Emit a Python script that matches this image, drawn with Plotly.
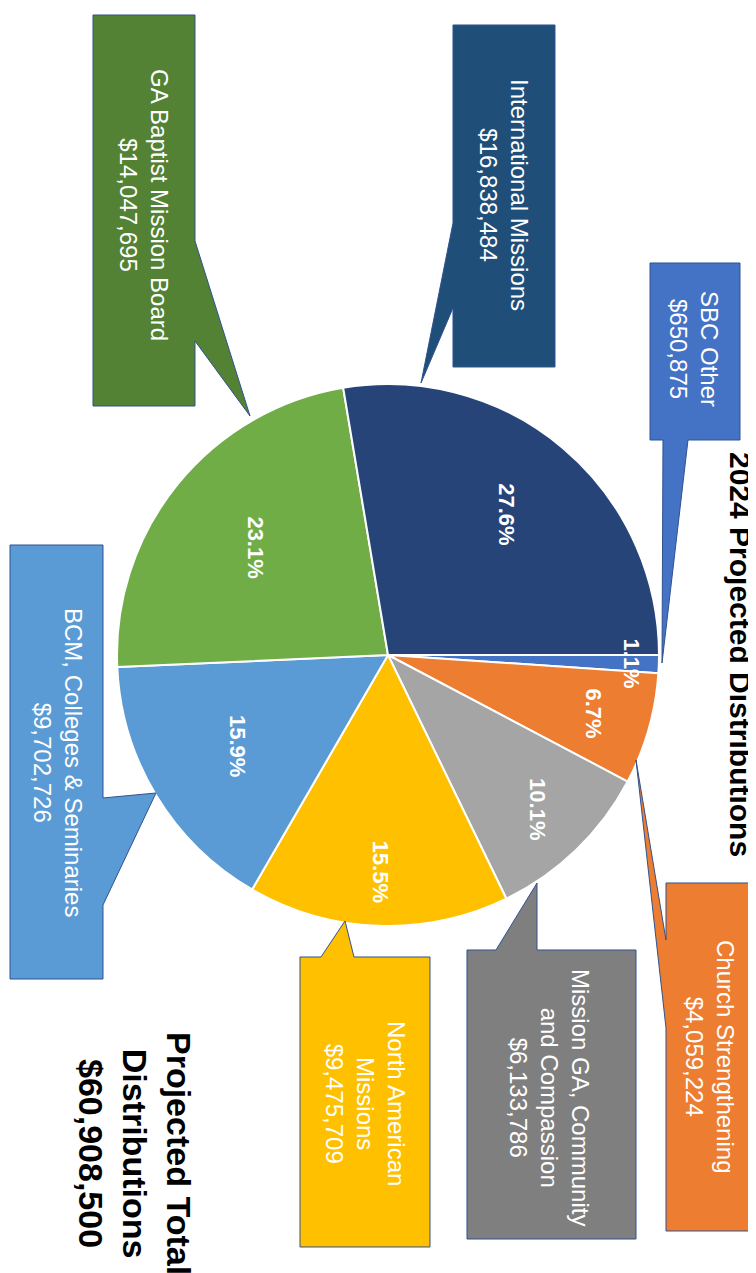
import math
import plotly.graph_objects as go

# ---------------- data ----------------
categories = ["SBC Other", "Church Strengthening", "Mission GA, Community and Compassion",
              "North American Missions", "BCM, Colleges & Seminaries",
              "GA Baptist Mission Board", "International Missions"]
amounts = [650875, 4059224, 6133786, 9475709, 9702726, 14047695, 16838484]
pct_labels = ["1.1%", "6.7%", "10.1%", "15.5%", "15.9%", "23.1%", "27.6%"]
# how each category name is broken into lines inside its callout
name_lines = [["SBC Other"], ["Church Strengthening"],
              ["Mission GA, Community", "and Compassion"],
              ["North American", "Missions"], ["BCM, Colleges & Seminaries"],
              ["GA Baptist Mission Board"], ["International Missions"]]
title_text = "2024 Projected Distributions"
total_lines = ["Projected Total", "Distributions", "$60,908,500"]

# ---------------- styles / layout ----------------
W, H = 756, 1273
slice_colors = ["#4472C4", "#ED7D31", "#A5A5A5", "#FFC000", "#5B9BD5", "#70AD47", "#264478"]
box_colors = ["#4472C4", "#ED7D31", "#7F7F7F", "#FFC000", "#5B9BD5", "#548235", "#1F4E79"]
FONT = "Liberation Sans, Arial, Helvetica, sans-serif"
CX, CY, R = 380, 647, 271          # pie centre / radius in pixels
label_radius = [0.90, 0.79, 0.79, 0.80, 0.65, 0.63, 0.68]

# callout outlines (pixel polygons, including the pointer) and text centres
callout_polys = [
    [(642, 255), (732, 255), (732, 432), (680, 432), (654, 655), (655, 432), (642, 432)],
    [(658, 875), (748, 875), (748, 1223), (658, 1223), (658, 1020), (628, 752), (658, 932)],
    [(459, 942), (488, 942), (529, 875), (529, 942), (628, 942), (628, 1231), (459, 1231)],
    [(292, 949), (313, 949), (337, 913), (346, 949), (422, 949), (422, 1239), (292, 1239)],
    [(2, 537), (95, 537), (95, 790), (148, 785), (95, 897), (95, 971), (2, 971)],
    [(85, 7), (187, 7), (187, 233), (242, 408), (187, 333), (187, 398), (85, 398)],
    [(445, 17), (547, 17), (547, 359), (445, 359), (445, 300), (413, 375), (445, 215)],
]
callout_text_pos = [(686, 341), (702, 1048), (542, 1089), (358, 1095), (50, 754), (136, 197), (496, 187)]


def px(x, y):
    return x / W, 1 - y / H


fig = go.Figure()
fig.add_trace(go.Pie(
    labels=categories, values=amounts, sort=False, direction="clockwise", rotation=90,
    marker=dict(colors=slice_colors, line=dict(color="white", width=2)),
    textinfo="none", hoverinfo="label+value+percent",
    domain=dict(x=[(CX - R) / W, (CX + R) / W], y=[1 - (CY + R) / H, 1 - (CY - R) / H]),
))

shapes = []
annotations = []

# percentage labels, placed at each slice's mid angle (clockwise from 3 o'clock)
total = sum(amounts)
cum = 0.0
for v, lab, f in zip(amounts, pct_labels, label_radius):
    mid = (cum + v / 2) / total * 2 * math.pi
    cum += v
    x = CX + R * f * math.cos(mid)
    y = CY + R * f * math.sin(mid)
    xp, yp = px(x, y)
    annotations.append(dict(x=xp, y=yp, xref="paper", yref="paper", text=f"<b>{lab}</b>",
                            showarrow=False, textangle=90, xanchor="center", yanchor="middle",
                            font=dict(family=FONT, size=22, color="white")))

# callouts
for poly, col, lines, v, (tx, ty) in zip(callout_polys, box_colors, name_lines, amounts, callout_text_pos):
    pts = [px(x, y) for x, y in poly]
    path = "M " + " L ".join(f"{a:.5f},{b:.5f}" for a, b in pts) + " Z"
    shapes.append(dict(type="path", path=path, xref="paper", yref="paper",
                       fillcolor=col, line=dict(color="#2F528F", width=1), layer="above"))
    xp, yp = px(tx, ty)
    annotations.append(dict(x=xp, y=yp, xref="paper", yref="paper",
                            text="<br>".join(lines + [f"${v:,}"]),
                            showarrow=False, textangle=90, xanchor="center", yanchor="middle",
                            font=dict(family=FONT, size=24, color="white")))

# title (rotated)
xp, yp = px(733, 646)
annotations.append(dict(x=xp, y=yp, xref="paper", yref="paper", text=f"<b>{title_text}</b>",
                        showarrow=False, textangle=90, xanchor="center", yanchor="middle",
                        font=dict(family=FONT, size=30, color="black")))
# total block
xp, yp = px(127, 1145)
annotations.append(dict(x=xp, y=yp, xref="paper", yref="paper",
                        text="<b>" + "<br>".join(total_lines) + "</b>",
                        showarrow=False, textangle=90, xanchor="center", yanchor="middle",
                        font=dict(family=FONT, size=34, color="black")))

fig.update_layout(width=W, height=H, margin=dict(l=0, r=0, t=0, b=0),
                  paper_bgcolor="white", plot_bgcolor="white", showlegend=False,
                  shapes=shapes, annotations=annotations)
fig.write_html("out.html")
